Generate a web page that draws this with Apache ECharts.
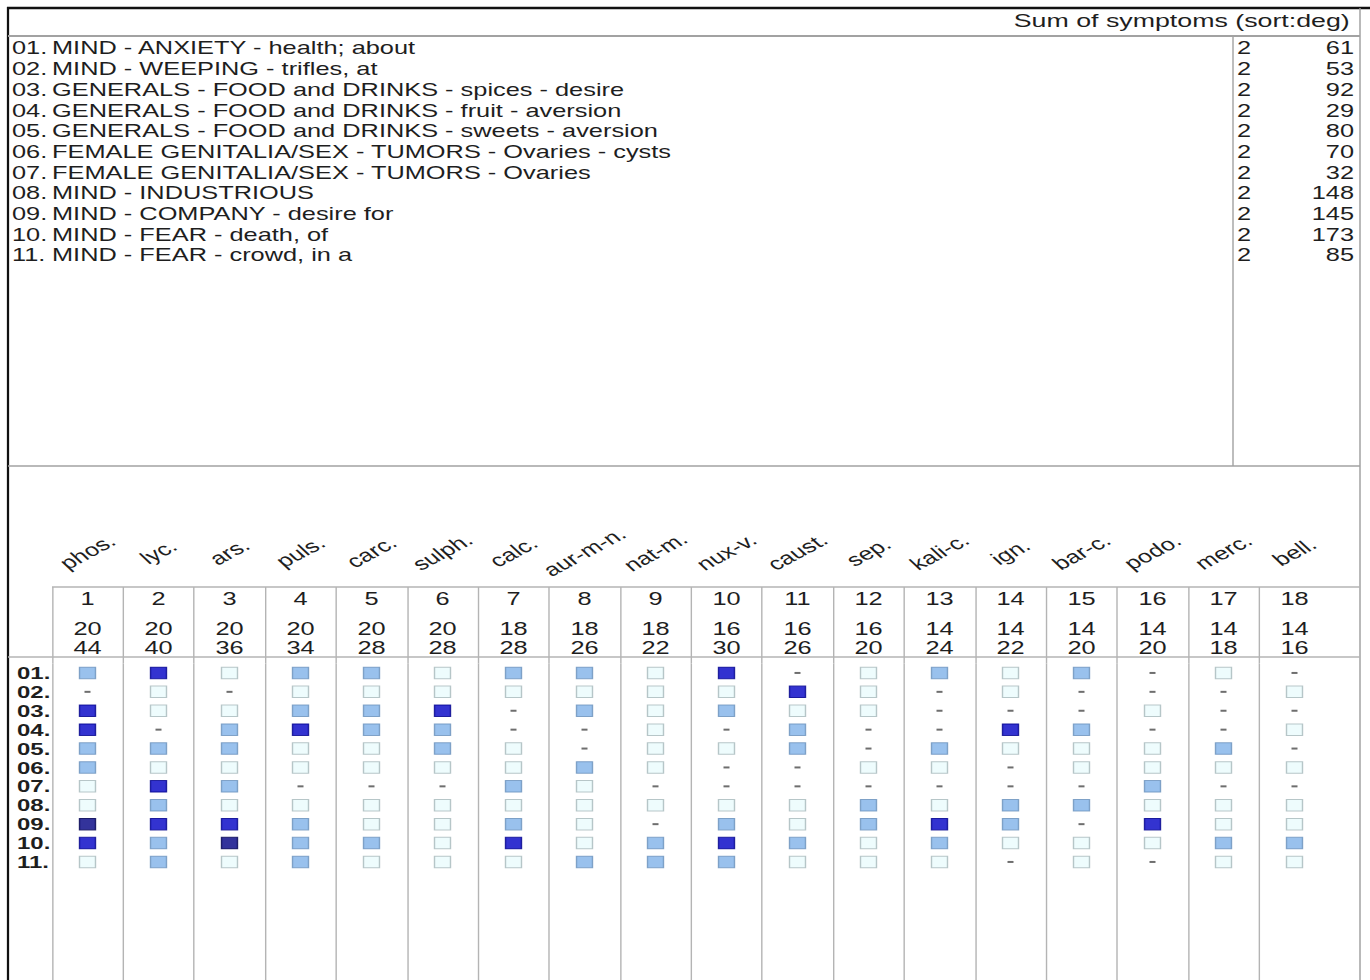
<!DOCTYPE html>
<html><head><meta charset="utf-8">
<script src="https://cdn.jsdelivr.net/npm/echarts@6/dist/echarts.min.js"></script>
<style>
html,body{margin:0;padding:0;background:#fff;overflow:hidden;width:1370px;height:980px}
#main{width:972px;height:980px;transform-origin:0 0;}
</style>
</head><body><div id="main"></div>
<script>
// ---------- data ----------
const symptoms = [
  'MIND - ANXIETY - health; about',
  'MIND - WEEPING - trifles, at',
  'GENERALS - FOOD and DRINKS - spices - desire',
  'GENERALS - FOOD and DRINKS - fruit - aversion',
  'GENERALS - FOOD and DRINKS - sweets - aversion',
  'FEMALE GENITALIA/SEX - TUMORS - Ovaries - cysts',
  'FEMALE GENITALIA/SEX - TUMORS - Ovaries',
  'MIND - INDUSTRIOUS',
  'MIND - COMPANY - desire for',
  'MIND - FEAR - death, of',
  'MIND - FEAR - crowd, in a'
];
const rowLabels = ['01.','02.','03.','04.','05.','06.','07.','08.','09.','10.','11.'];
const symptomWeights = [2,2,2,2,2,2,2,2,2,2,2];
const symptomTotals = [61,53,92,29,80,70,32,148,145,173,85];

const remedies = ['phos.','lyc.','ars.','puls.','carc.','sulph.','calc.','aur-m-n.','nat-m.',
  'nux-v.','caust.','sep.','kali-c.','ign.','bar-c.','podo.','merc.','bell.'];
const remedyRanks = [1,2,3,4,5,6,7,8,9,10,11,12,13,14,15,16,17,18];
const remedyCoverage = [20,20,20,20,20,20,18,18,18,16,16,16,14,14,14,14,14,14];
const remedyDegrees = [44,40,36,34,28,28,28,26,22,30,26,20,24,22,20,20,18,16];

// grade of each symptom (rows 01..11) for each remedy; 0 = not present
const grades = [
  [2,0,3,3,2,2,1,1,4,3,1], // phos.
  [3,1,1,0,2,1,3,2,3,2,2], // lyc.
  [1,0,1,2,2,1,2,1,3,4,1], // ars.
  [2,1,2,3,1,1,0,1,2,2,2], // puls.
  [2,1,2,2,1,1,0,1,1,2,1], // carc.
  [1,1,3,2,2,1,0,1,1,1,1], // sulph.
  [2,1,0,0,1,1,2,1,2,3,1], // calc.
  [2,1,2,0,0,2,1,1,1,1,2], // aur-m-n.
  [1,1,1,1,1,1,0,1,0,2,2], // nat-m.
  [3,1,2,0,1,0,0,1,2,3,2], // nux-v.
  [0,3,1,2,2,0,0,1,1,2,1], // caust.
  [1,1,1,0,0,1,0,2,2,1,1], // sep.
  [2,0,0,0,2,1,0,1,3,2,1], // kali-c.
  [1,1,0,3,1,0,0,2,2,1,0], // ign.
  [2,0,0,2,1,1,0,2,0,1,1], // bar-c.
  [0,0,1,0,1,1,2,1,3,1,0], // podo.
  [1,0,0,0,2,1,0,1,1,2,1], // merc.
  [0,1,0,1,0,1,0,1,1,2,1]  // bell.
];

// ---------- layout (the reference is horizontally stretched) ----------
const W = 1370, CW = 972, S = W / CW;
document.getElementById('main').style.transform = 'scaleX(' + S + ')';
const X = v => v / S;
const FONT = '"Liberation Sans", Arial, Helvetica, sans-serif';
const TXT = '#1e1e1e';
const colW = X(71);
const gridLeft = X(52);
const gridW = colW * remedies.length;
const rowH = 18.9;
const listRowH = 20.7;
const matrixRows = rowLabels.concat(['', '', '', '', '', '']);
const lineGray = '#b4b4b4';

const gradeStyle = {
  0: {color: '#4a4a4a', borderWidth: 0},
  1: {color: '#eafbfd', borderColor: '#a6b8ba', borderWidth: 1},
  2: {color: '#7fb1e9', borderColor: '#6a91bb', borderWidth: 1},
  3: {color: '#0000c4', borderColor: '#00008c', borderWidth: 1},
  4: {color: '#000082', borderColor: '#000050', borderWidth: 1}
};

const cellData = [];
grades.forEach((col, ci) => col.forEach((g, ri) => {
  cellData.push({
    value: [ci, ri, g],
    symbol: 'rect',
    symbolSize: g ? [X(16), 11.5] : [X(6), 2],
    itemStyle: gradeStyle[g]
  });
}));

const chart = echarts.init(document.getElementById('main'), null, {renderer: 'svg'});
const hLine = (x1, x2, y, stroke, w) => ({type: 'line', silent: true,
  shape: {x1: x1, y1: y, x2: x2, y2: y}, style: {stroke: stroke, lineWidth: w}});
const vLine = (x, y1, y2, stroke, w) => ({type: 'line', silent: true,
  shape: {x1: x, y1: y1, x2: x, y2: y2}, style: {stroke: stroke, lineWidth: w}});

chart.setOption({
  animation: false,
  backgroundColor: '#fff',
  title: {
    text: 'Sum of symptoms (sort:deg)',
    right: CW - X(1350), top: 11, padding: 0,
    textStyle: {fontSize: 19, fontWeight: 'normal', color: TXT, fontFamily: FONT}
  },
  graphic: [
    hLine(X(7), CW, 8, '#111', 2.5),
    vLine(X(8), 7, 980, '#111', 1.6),
    vLine(X(1360), 8, 980, '#9c9c9c', 1),
    hLine(X(8), X(1360), 36, '#a2a2a2', 2),
    hLine(X(8), X(1360), 466, '#a2a2a2', 1.5),
    vLine(X(1233), 36, 466, '#a2a2a2', 1),
    hLine(gridLeft, X(1360), 587, lineGray, 1.5),
    hLine(X(8), X(1360), 657, lineGray, 1.5)
  ],
  grid: [
    {left: X(8), top: 38, width: X(1360) - X(8), height: listRowH * symptoms.length, containLabel: false, outerBoundsMode: 'none'},
    {left: gridLeft, top: 587, width: gridW, height: 76.5, containLabel: false, outerBoundsMode: 'none'},
    {left: gridLeft, top: 663.5, width: gridW, height: rowH * matrixRows.length, containLabel: false, outerBoundsMode: 'none'}
  ],
  xAxis: [
    {gridIndex: 0, type: 'value', show: false},
    {
      gridIndex: 1, type: 'category', data: remedies, position: 'top',
      axisLine: {show: false}, axisTick: {show: false},
      axisLabel: {interval: 0, rotate: 37, align: 'center', verticalAlign: 'middle', margin: 35,
        fontSize: 18, color: TXT, fontFamily: FONT},
      splitLine: {show: true, interval: 0, showMaxLine: false, lineStyle: {color: lineGray, width: 1}}
    },
    {
      gridIndex: 2, type: 'category', data: remedies, position: 'top',
      axisLine: {show: false}, axisTick: {show: false},
      axisLabel: {
        interval: 0, margin: 6.5, verticalAlign: 'bottom', color: TXT, fontFamily: FONT,
        formatter: (v, i) => '{i|' + remedyRanks[i] + '}\n{s| }\n{c|' + remedyCoverage[i] + '}\n{c|' + remedyDegrees[i] + '}',
        rich: {
          i: {fontSize: 18, lineHeight: 20, color: TXT, fontFamily: FONT},
          s: {fontSize: 4, lineHeight: 10},
          c: {fontSize: 18, lineHeight: 19, color: TXT, fontFamily: FONT}
        }
      },
      splitLine: {show: true, interval: 0, showMaxLine: false, lineStyle: {color: lineGray, width: 1}}
    }
  ],
  yAxis: [
    {
      gridIndex: 0, type: 'category', data: symptoms, inverse: true, position: 'left',
      axisLine: {show: false}, axisTick: {show: false}, splitLine: {show: false},
      axisLabel: {
        inside: true, interval: 0, margin: X(4), color: TXT, fontFamily: FONT, fontSize: 18,
        formatter: (v, i) => '{n|' + rowLabels[i] + '}{t|' + v + '}',
        rich: {
          n: {width: X(40), align: 'left', fontSize: 18, color: TXT, fontFamily: FONT},
          t: {align: 'left', fontSize: 18, color: TXT, fontFamily: FONT}
        }
      }
    },
    {
      gridIndex: 0, type: 'category', data: symptoms, inverse: true, position: 'right',
      axisLine: {show: false}, axisTick: {show: false}, splitLine: {show: false},
      axisLabel: {
        inside: true, interval: 0, margin: X(6), color: TXT, fontFamily: FONT, fontSize: 18,
        formatter: (v, i) => '{w|' + symptomWeights[i] + '}{s|' + symptomTotals[i] + '}',
        rich: {
          w: {width: X(75), align: 'left', fontSize: 18, color: TXT, fontFamily: FONT},
          s: {width: X(42), align: 'right', fontSize: 18, color: TXT, fontFamily: FONT}
        }
      }
    },
    {gridIndex: 1, type: 'value', show: false},
    {
      gridIndex: 2, type: 'category', data: matrixRows, inverse: true,
      axisLine: {show: false}, axisTick: {show: false}, splitLine: {show: false},
      axisLabel: {interval: 0, align: 'left', margin: gridLeft - X(17), fontSize: 17,
        fontWeight: 'bold', color: TXT, fontFamily: FONT}
    }
  ],
  series: [{
    type: 'scatter', xAxisIndex: 2, yAxisIndex: 3, silent: true,
    data: cellData,
    emphasis: {disabled: true}
  }]
});
</script>
</body></html>
